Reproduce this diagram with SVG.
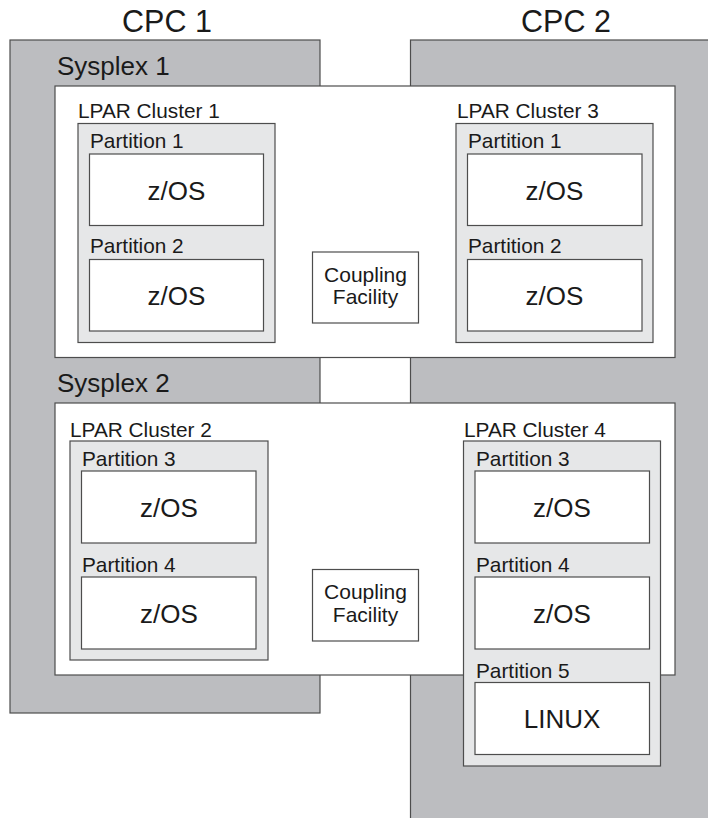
<svg xmlns="http://www.w3.org/2000/svg" width="708" height="818" viewBox="0 0 708 818">
<style>
text{font-family:"Liberation Sans",Arial,sans-serif;fill:#1a1a1a}
.cpc{fill:#bcbdc0;stroke:#4d4d4d;stroke-width:1.2}
.sys{fill:#ffffff;stroke:#4d4d4d;stroke-width:1.2}
.clu{fill:#e6e7e8;stroke:#4d4d4d;stroke-width:1.2}
.os{fill:#ffffff;stroke:#4d4d4d;stroke-width:1.2}
.big{font-size:30.5px;text-anchor:middle}
.sx{font-size:26px}
.lb{font-size:20.8px}
.osT{font-size:26px;text-anchor:middle}
.cf{font-size:21px;text-anchor:middle}
</style>
<rect width="708" height="818" fill="#ffffff"/>
<g id="cpc1">
<rect class="cpc" x="10" y="40" width="310" height="673"/>
<text class="big" x="167" y="32">CPC 1</text>
</g>
<g id="cpc2">
<rect class="cpc" x="410.5" y="40" width="320" height="800"/>
<text class="big" x="566" y="32">CPC 2</text>
</g>
<g id="sysplex1">
<rect class="sys" x="55" y="86" width="620" height="271.5"/>
<text class="sx" x="57" y="75">Sysplex 1</text>
</g>
<g id="sysplex2">
<rect class="sys" x="55" y="403" width="620" height="272"/>
<text class="sx" x="57" y="392">Sysplex 2</text>
</g>
<g id="cluster1">
<text class="lb" x="78" y="117.5">LPAR Cluster 1</text>
<rect class="clu" x="78" y="123.5" width="197" height="219"/>
<g id="c1p1">
<text class="lb" x="90" y="148">Partition 1</text>
<rect class="os" x="89.5" y="154" width="174" height="71.5"/>
<text class="osT" x="176.5" y="199.5">z/OS</text>
</g>
<g id="c1p2">
<text class="lb" x="90" y="253">Partition 2</text>
<rect class="os" x="89.5" y="259.5" width="174" height="71.5"/>
<text class="osT" x="176.5" y="305">z/OS</text>
</g>
</g>
<g id="cf1">
<rect class="os" x="312.5" y="252" width="106" height="71"/>
<text class="cf" x="365.5" y="281.5">Coupling</text>
<text class="cf" x="365.5" y="304">Facility</text>
</g>
<g id="cluster3">
<text class="lb" x="457" y="117.5">LPAR Cluster 3</text>
<rect class="clu" x="456" y="123.5" width="197" height="219"/>
<g id="c3p1">
<text class="lb" x="468" y="148">Partition 1</text>
<rect class="os" x="467.5" y="154" width="174.5" height="71.5"/>
<text class="osT" x="554.5" y="199.5">z/OS</text>
</g>
<g id="c3p2">
<text class="lb" x="468" y="253">Partition 2</text>
<rect class="os" x="467.5" y="259.5" width="174.5" height="71.5"/>
<text class="osT" x="554.5" y="305">z/OS</text>
</g>
</g>
<g id="cluster2">
<text class="lb" x="70" y="436.5">LPAR Cluster 2</text>
<rect class="clu" x="70" y="441" width="198" height="219"/>
<g id="c2p3">
<text class="lb" x="82" y="466">Partition 3</text>
<rect class="os" x="81.5" y="471" width="174.5" height="72"/>
<text class="osT" x="169" y="516.5">z/OS</text>
</g>
<g id="c2p4">
<text class="lb" x="82" y="571.5">Partition 4</text>
<rect class="os" x="81.5" y="577" width="174.5" height="72"/>
<text class="osT" x="169" y="622.5">z/OS</text>
</g>
</g>
<g id="cf2">
<rect class="os" x="312.5" y="569.5" width="106" height="71.5"/>
<text class="cf" x="365.5" y="599">Coupling</text>
<text class="cf" x="365.5" y="621.5">Facility</text>
</g>
<g id="cluster4">
<text class="lb" x="464" y="436.5">LPAR Cluster 4</text>
<rect class="clu" x="463.5" y="441" width="197" height="325"/>
<g id="c4p3">
<text class="lb" x="476" y="466">Partition 3</text>
<rect class="os" x="475" y="471" width="174.5" height="72"/>
<text class="osT" x="562" y="516.5">z/OS</text>
</g>
<g id="c4p4">
<text class="lb" x="476" y="571.5">Partition 4</text>
<rect class="os" x="475" y="577" width="174.5" height="72"/>
<text class="osT" x="562" y="622.5">z/OS</text>
</g>
<g id="c4p5">
<text class="lb" x="476" y="677.5">Partition 5</text>
<rect class="os" x="475" y="682.5" width="174.5" height="72"/>
<text class="osT" x="562" y="728">LINUX</text>
</g>
</g>
<g id="connectors"/>
</svg>
